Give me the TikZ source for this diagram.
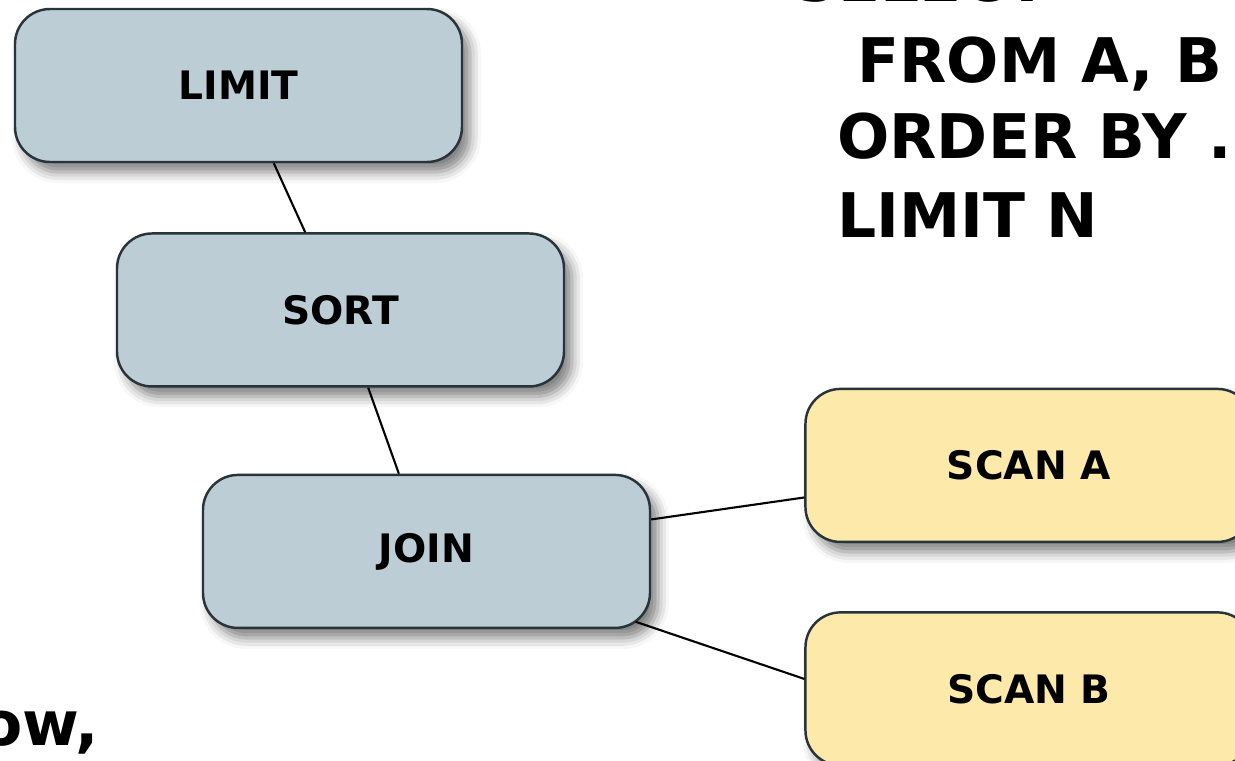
\documentclass[tikz,border=0pt]{standalone}
\usepackage{fontspec}
\setmainfont{DejaVu Sans}
\usetikzlibrary{positioning, shadows.blur}
\definecolor{opblue}{RGB}{188,205,213}
\definecolor{scanyellow}{RGB}{253,234,170}
\definecolor{opline}{RGB}{40,52,58}

\begin{document}
\begin{tikzpicture}[node distance=1.4cm, font=\bfseries\fontsize{22.3}{27}\selectfont,
  op/.style={draw=opline, line width=1.4pt, fill=opblue, rounded corners=0.7cm, minimum width=8.94cm, minimum height=3.06cm, inner sep=0pt,
    blur shadow={shadow xshift=0.16cm, shadow yshift=-0.2cm, shadow blur radius=0.22cm, shadow opacity=50}},
  scan/.style={op, fill=scanyellow},
  link/.style={line width=1.2pt},
  sql/.style={anchor=base west, inner sep=0pt, font=\bfseries\fontsize{35}{42}\selectfont}]
  \useasboundingbox (0,0) rectangle (24.7,-15.2);
  \clip (0,0) rectangle (24.7,-15.2);
  \node[op] (limit) at (4.77,-1.71) {LIMIT};
  \node[op, below=1.38cm of limit, xshift=2.04cm] (sort) {SORT};
  \node[op, below=1.72cm of sort, xshift=1.72cm] (join) {JOIN};
  \node[scan, right=3.06cm of join, yshift=1.72cm] (scana) {SCAN A};
  \node[scan, below=1.36cm of scana] (scanb) {SCAN B};
  \draw[link] (limit)--(sort);
  \draw[link] (sort)--(join);
  \draw[link] (join)--(scana);
  \draw[link, shorten <=-0.33cm] (join)--([yshift=0.2cm]scanb.west);
  % query text
  \node[sql] (select) at (15.87,-0.02) {SELECT *};
  \node[sql] (from) at (17.14,-1.64) {FROM A, B};
  \node[sql] (order) at (16.74,-3.16) {ORDER BY ...};
  \node[sql] (lim) at (16.74,-4.74) {LIMIT N};
  \node[sql] (note) at (-0.4,-14.9) {ow,};
\end{tikzpicture}
\end{document}
